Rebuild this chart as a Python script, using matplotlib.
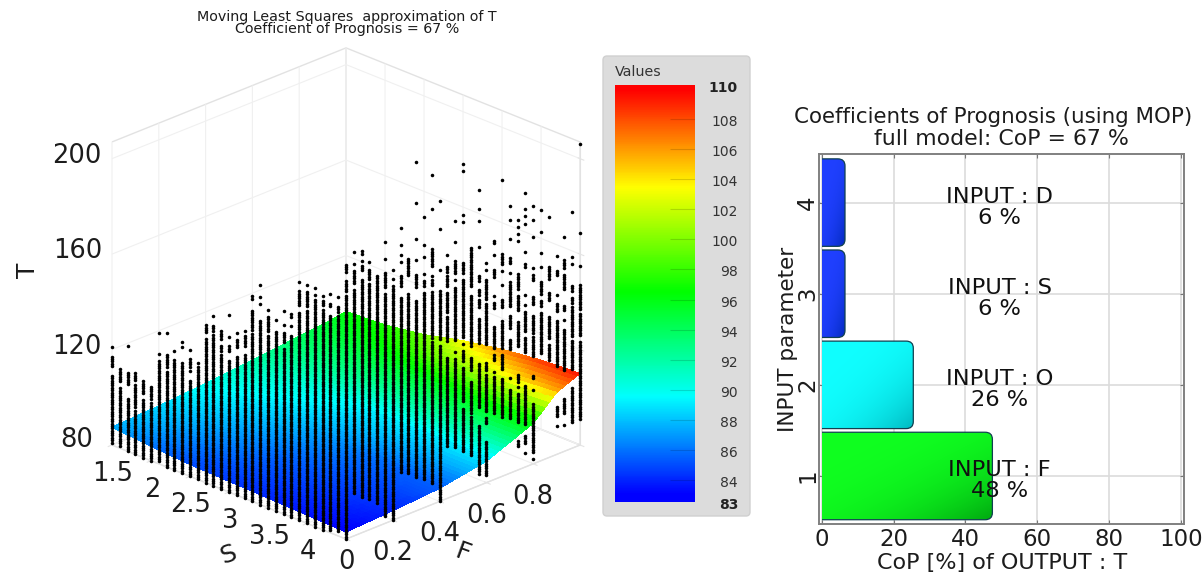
import numpy as np
import matplotlib
matplotlib.use("Agg")
import matplotlib.pyplot as plt
from matplotlib.colors import LinearSegmentedColormap
from matplotlib.patches import FancyBboxPatch
from matplotlib.transforms import Bbox, TransformedBbox
from mpl_toolkits.mplot3d import proj3d

plt.rcParams['font.family'] = ['DejaVu Sans']
plt.rcParams['grid.color'] = '#f0f0f0'
plt.rcParams['grid.linewidth'] = 0.8
INK = '#1c1c1c'

# ---- surface table (T read at S, F)
surf_S = [1.5, 2.0, 2.5, 3.0, 3.5, 4.0, 4.5]
surf_F = [0.0, 0.2, 0.4, 0.6, 0.8, 0.9, 1.0]
surf_T = [
    [87.5, 88.5, 90.0, 92.0, 94.0, 95.0, 96.5],
    [86.0, 87.5, 89.0, 91.0, 94.0, 96.0, 97.5],
    [85.0, 86.5, 88.0, 90.0, 94.5, 97.5, 100.0],
    [84.5, 85.5, 87.0, 89.0, 95.0, 100.0, 104.0],
    [84.0, 85.0, 86.0, 89.0, 96.0, 102.0, 107.0],
    [83.5, 84.5, 85.5, 89.0, 96.5, 104.5, 109.0],
    [83.0, 84.0, 85.5, 89.0, 97.0, 106.0, 110.0],
]

# ---- sample columns: (low, high) runs of integer T at each lattice column
column_runs = [
    [(121,121),(113,117),(81,109)],
    [(108,113),(81,105)],
    [(124,124),(108,113),(80,102)],
    [(111,114),(100,109),(80,98)],
    [(111,112),(107,110),(80,104)],
    [(106,111),(80,104)],
    [(135,135),(126,126),(81,123)],
    [(136,136),(122,127),(80,120)],
    [(130,130),(118,126),(80,117)],
    [(135,135),(133,133),(114,126),(80,113)],
    [(133,133),(126,129),(124,124),(114,120),(80,113)],
    [(129,129),(124,127),(116,123),(80,115)],
    [(143,146),(80,140)],
    [(151,151),(145,147),(137,143),(80,136)],
    [(143,146),(138,140),(80,136)],
    [(154,154),(145,145),(139,141),(130,135),(80,129)],
    [(148,148),(142,145),(133,138),(80,132)],
    [(150,150),(144,148),(135,140),(80,134)],
    [(165,166),(152,160),(80,150)],
    [(172,172),(167,167),(164,164),(149,157),(80,148)],
    [(163,163),(154,160),(149,152),(80,148)],
    [(160,160),(80,155)],
    [(165,165),(159,159),(152,156),(80,149)],
    [(164,165),(160,160),(152,156),(80,151)],
    [(180,180),(170,176),(80,167)],
    [(180,180),(171,177),(80,169)],
    [(180,180),(177,177),(166,175),(80,165)],
    [(178,178),(174,176),(80,172)],
    [(180,180),(175,176),(81,171)],
    [(180,180),(174,176),(82,172)],
    [(192,195),(184,188),(80,182)],
    [(199,199),(194,194),(186,191),(98,183)],
    [(197,198),(194,194),(190,192),(95,186)],
    [(192,192),(185,189),(93,183)],
    [(175,185),(90,174)],
    [(198,198),(191,191),(179,185),(83,176)],
    [(185,185),(181,181),(175,178),(80,174)],
    [(201,201),(194,194),(190,190),(187,187),(177,181),(99,172)],
    [(180,187),(97,172)],
    [(194,194),(185,185),(174,179),(94,168)],
    [(202,202),(190,190),(185,185),(178,178),(173,175),(92,170)],
    [(204,204),(180,187),(176,176),(172,174),(150,169),(89,148)],
    [(206,206),(194,194),(177,177),(148,168),(80,145)],
    [(182,182),(175,177),(169,173),(158,166),(146,156),(102,139)],
    [(195,195),(186,186),(173,178),(170,170),(145,167),(140,140),(100,137)],
    [(196,196),(193,193),(172,176),(145,169),(142,142),(135,139),(118,132),(97,115)],
    [(165,181),(140,161),(130,135),(112,125),(94,110)],
    [(204,204),(196,196),(191,191),(180,180),(166,168),(160,162),(155,158),(140,150),(113,131),(85,105)],
    [(172,172),(169,169),(160,165),(157,159),(138,155),(127,130),(110,125),(105,107),(83,97)],
    [(179,180),(174,174),(165,168),(157,157),(152,154),(135,144),(130,132),(125,125),(108,123)],
    [(204,204),(169,173),(166,166),(160,160),(151,154),(134,145),(125,131),(116,121),(105,115)],
    [(192,192),(186,186),(178,178),(168,170),(164,164),(150,160),(141,146),(132,136),(120,120),(103,115)],
    [(185,185),(182,182),(179,179),(176,176),(156,162),(147,153),(132,142),(117,120),(115,115),(100,112),(90,92)],
    [(195,195),(188,188),(185,185),(182,182),(170,170),(164,165),(152,152),(148,148),(137,145),(128,134),(98,114),(90,93),(86,86)],
    [(188,188),(182,182),(175,175),(162,162),(157,159),(147,150),(135,142),(125,133),(116,117),(111,111),(85,105),(82,82)],
    [(185,185),(176,176),(167,167),(161,161),(150,155),(145,147),(125,142)],
    [(181,181),(155,160),(146,149),(130,139),(121,127)],
    [(163,163),(155,157),(147,147),(140,143),(130,136),(117,129),(96,100),(92,92)],
    [(170,170),(157,160),(148,154),(139,141),(135,135),(125,131),(114,124),(96,102),(91,91)],
    [(179,179),(160,160),(157,157),(146,148),(141,143),(127,139),(113,125),(91,105)],
    [(206,206),(169,169),(155,155),(141,147),(137,140),(126,135),(92,123),(91,91)],
]
# samples lying at the far F=1 edge
far_S = [2.4, 2.4, 2.6, 3.0, 3.0]
far_F = [1.0, 1.0, 1.0, 1.0, 1.0]
far_T = [171, 154, 168, 178, 175]

# ---- axis ticks of the 3D plot
s_ticks = [1.5, 2, 2.5, 3, 3.5, 4]
s_labels = ['1.5', '2', '2.5', '3', '3.5', '4']
f_ticks = [0, 0.2, 0.4, 0.6, 0.8]
f_labels = ['0', '0.2', '0.4', '0.6', '0.8']
t_ticks = [80, 120, 160, 200]

# ---- colour scale
scale_stops = [83, 89.5, 96.5, 103.5, 110]
scale_colors = ['#0000ff', '#00ffff', '#00ff00', '#ffff00', '#ff0000']
scale_ticks = [84, 86, 88, 90, 92, 94, 96, 98, 100, 102, 104, 106, 108]

# ---- bar chart
param_pos = [1, 2, 3, 4]
param_cop = [47.5, 25.5, 6.5, 6.5]
param_text = ['INPUT : F\n48 %', 'INPUT : O\n26 %', 'INPUT : S\n6 %', 'INPUT : D\n6 %']
bar_light = ['#10ff20', '#10ffff', '#2040ff', '#2040ff']
bar_dark = ['#00a810', '#00b8c0', '#0028b8', '#0028b8']

W, H = 1204, 575
fig = plt.figure(figsize=(W / 100, H / 100), dpi=100, facecolor='white')

def box(l, t, r, b):
    return [l / W, 1 - b / H, (r - l) / W, (b - t) / H]

# ---------- background layer
bg = fig.add_axes([0, 0, 1, 1], zorder=0)
bg.set_xlim(0, W); bg.set_ylim(H, 0); bg.axis('off')
bg.add_patch(FancyBboxPatch((605, 58), 143, 456, boxstyle='round,pad=2,rounding_size=4',
                            fc='#dcdcdc', ec='#d0d0d0', lw=1))

# ---------- 3D surface
cmap = LinearSegmentedColormap.from_list(
    'scale', [((v - 83) / 27, c) for v, c in zip(scale_stops, scale_colors)])
ax = fig.add_axes(box(60.25, 22.75, 616.75, 579.25), projection='3d', zorder=1)
ax.set_proj_type('ortho')
ax.view_init(elev=23.7, azim=-45)
ax.patch.set_alpha(0)
ax.set_box_aspect((1, 1, 1), zoom=1.0)
ax.computed_zorder = False

s_fine = np.linspace(surf_S[0], surf_S[-1], 61)
f_fine = np.linspace(surf_F[0], surf_F[-1], 61)
tbl = np.array(surf_T)
by_f = np.array([np.interp(f_fine, surf_F, row) for row in tbl])
fine = np.array([np.interp(s_fine, surf_S, col) for col in by_f.T]).T
X, Y = np.meshgrid(s_fine, f_fine, indexing='ij')
ax.plot_surface(X, Y, fine, facecolors=cmap((fine - 83) / 27), rstride=1, cstride=1,
                shade=False, linewidth=0, antialiased=False, zorder=1)

col_S, col_F, col_T = [], [], []
for k, runs in enumerate(column_runs):
    s = min(4.5, 1.5 + k * 0.1)
    f = max(0.0, (k - 30) / 30)
    for lo, hi in runs:
        for t in range(lo, hi + 1):
            col_S.append(s); col_F.append(f); col_T.append(t)
col_S += far_S; col_F += far_F; col_T += far_T
ax.scatter(col_S, col_F, col_T, s=6.5, c='black', linewidths=0, depthshade=False, zorder=2)

ax.set_xlim(1.5, 4.5, view_margin=0)
ax.set_ylim(0, 1, view_margin=0)
ax.set_zlim(80, 207, view_margin=0)
ax.set_xticks(s_ticks)
ax.set_yticks(f_ticks)
ax.set_zticks(t_ticks)
ax.set_xticklabels([]); ax.set_yticklabels([]); ax.set_zticklabels([])
ax.tick_params(color='#e4e4e4')
for a in (ax.xaxis, ax.yaxis, ax.zaxis):
    a.set_pane_color((1, 1, 1, 0))
    a.pane.set_alpha(None)
    a.pane.set_facecolor((1, 1, 1, 0))
    a.pane.set_edgecolor('#e2e2e2')
    a.line.set_color('#e2e2e2')
    a.line.set_linewidth(0.8)

def tick_label(pt, text, dx, dy, ha):
    px, py, _ = proj3d.proj_transform(pt[0], pt[1], pt[2], ax.get_proj())
    ax.annotate(text, xy=(px, py), xytext=(dx, dy), textcoords='offset pixels', ha=ha, va='center',
                fontsize=18.5, color=INK, annotation_clip=False)

for v, lab in zip(s_ticks, s_labels):
    tick_label((v, 0, 80), lab, 1, -29, 'center')
for v, lab in zip(f_ticks, f_labels):
    tick_label((4.5, v, 80), lab, 0, -33 if v else -23, 'center')
for v in t_ticks:
    tick_label((1.5, 0, v), str(v), -19 if v == 80 else -10, 5 if v == 80 else 3, 'right')

fig.text(228 / W, 1 - 555 / H, 'S', fontsize=18, rotation=20, ha='center', va='center', color=INK)
fig.text(463 / W, 1 - 553 / H, 'F', fontsize=18, rotation=-20, ha='center', va='center', color=INK)
fig.text(28 / W, 1 - 270 / H, 'T', fontsize=18, rotation=90, ha='center', va='center', color=INK)
fig.text(347 / W, 1 - 23 / H, 'Moving Least Squares  approximation of T\nCoefficient of Prognosis = 67 %',
         fontsize=10.3, ha='center', va='center', linespacing=0.9, color=INK)

# ---------- colour scale panel
cb = fig.add_axes(box(615, 85, 695, 502), zorder=2)
lo_v, hi_v = 82.53, 110.27
grad = np.linspace(lo_v, hi_v, 512).reshape(-1, 1)
cb.imshow((grad - 83) / 27, cmap=cmap, vmin=0, vmax=1, origin='lower', aspect='auto',
          extent=[0, 1, lo_v, hi_v])
cb.set_xlim(0, 1); cb.set_ylim(lo_v, hi_v)
cb.set_xticks([]); cb.set_yticks([])
for sp in cb.spines.values():
    sp.set_visible(False)
cb.hlines(scale_ticks, 0.69, 1, colors='k', alpha=0.15, lw=0.8)
for v in scale_ticks:
    cb.annotate(str(v), xy=(1, v), xycoords=('axes fraction', 'data'), xytext=(43, -3),
                textcoords='offset pixels', ha='right', va='center', fontsize=10, color='#333333',
                annotation_clip=False)
cb.annotate('110', xy=(1, 110), xycoords=('axes fraction', 'data'), xytext=(43, 1),
            textcoords='offset pixels', ha='right', va='center', fontsize=10, fontweight='bold',
            color='#222222', annotation_clip=False)
cb.annotate('83', xy=(1, 83), xycoords=('axes fraction', 'data'), xytext=(43, -10),
            textcoords='offset pixels', ha='right', va='center', fontsize=10, fontweight='bold',
            color='#222222', annotation_clip=False)
fig.text(615 / W, 1 - 72 / H, 'Values', fontsize=10.3, ha='left', va='center', color='#333333', zorder=3)

# ---------- bar chart
bx = fig.add_axes(box(819.3, 154.3, 1184, 524), zorder=2)
bars = bx.barh(param_pos, param_cop, height=0.96, color='none', edgecolor='none')
clip = TransformedBbox(Bbox([[0, 0], [101, 5]]), bx.transData)
for rect, c0, c1 in zip(bars, bar_light, bar_dark):
    x1 = rect.get_width()
    y0 = rect.get_y()
    h = rect.get_height()
    shape = FancyBboxPatch((-3, y0), x1 + 3, h, boxstyle='round,pad=0,rounding_size=2',
                           mutation_aspect=0.0385, fc='none', ec='#104050', lw=0.9, zorder=3)
    bx.add_patch(shape)
    shape.set_clip_path(None)
    shape.set_clip_box(clip)
    u, v = np.meshgrid(np.linspace(0, 1, 80), np.linspace(0, 1, 80))
    t = np.clip((u + (1 - v)) / 2, 0, 1) ** 3
    a = np.array(matplotlib.colors.to_rgb(c0))
    b = np.array(matplotlib.colors.to_rgb(c1))
    rgb = a[None, None, :] * (1 - t[..., None]) + b[None, None, :] * t[..., None]
    im = bx.imshow(rgb, extent=[0, x1, y0, y0 + h], origin='lower', aspect='auto', zorder=2)
    im.set_clip_path(shape)
bx.set_xlim(-0.65, 100.8)
bx.set_ylim(0.473, 4.53)
bx.set_xticks([0, 20, 40, 60, 80, 100])
bx.set_yticks(param_pos)
bx.grid(True, color='#dcdcdc', lw=1.2, zorder=1)
bx.set_axisbelow(True)
bx.tick_params(axis='both', labelsize=16.5, colors=INK, length=3, direction='in',
               top=True, right=True, color='#777777')
bx.tick_params(axis='x', pad=3)
bx.tick_params(axis='y', pad=0)
plt.setp(bx.get_yticklabels(), rotation=90, va='center')
for sp in bx.spines.values():
    sp.set_color('#808080'); sp.set_linewidth(1.4)
bx.set_xlabel('CoP [%] of OUTPUT : T', fontsize=16, color=INK, labelpad=1)
bx.set_ylabel('INPUT parameter', fontsize=15.5, color=INK, labelpad=-1)
for p, txt in zip(param_pos, param_text):
    bx.text(49.5, p - 0.05, txt, ha='center', va='center', fontsize=16.2, linespacing=1.05,
            color='#111111', zorder=5)
fig.text(993 / W, 1 - 117 / H, 'Coefficients of Prognosis (using MOP)', fontsize=15.4,
         ha='center', va='center', color=INK, zorder=3)
fig.text(1001 / W, 1 - 139 / H, 'full model: CoP = 67 %', fontsize=15.8,
         ha='center', va='center', color=INK, zorder=3)

fig.savefig('out.png', dpi=100)
